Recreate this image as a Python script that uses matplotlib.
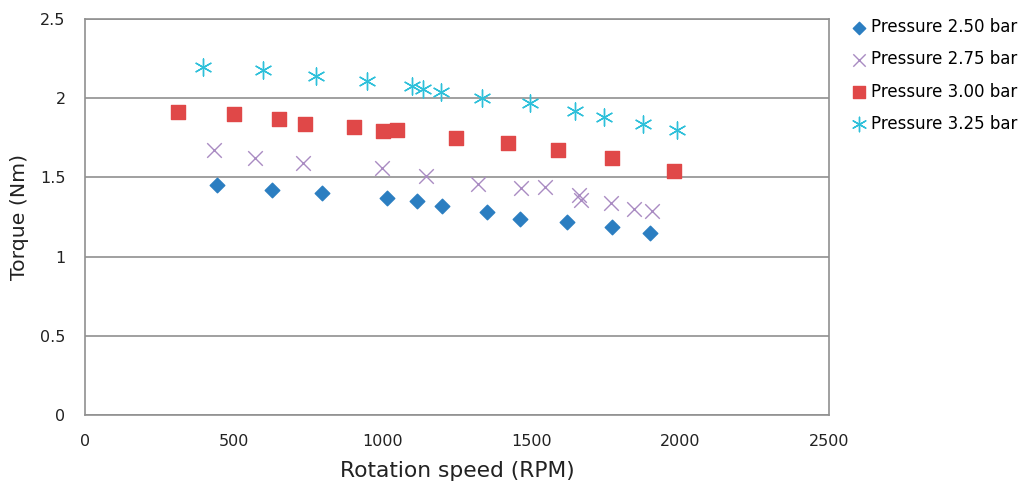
import numpy as np
import matplotlib
matplotlib.use('Agg')
import matplotlib.pyplot as plt

# data
rpm_250 = [445, 627, 798, 1016, 1114, 1198, 1350, 1461, 1619, 1770, 1900]
torque_250 = [1.45, 1.42, 1.40, 1.37, 1.35, 1.32, 1.28, 1.24, 1.22, 1.19, 1.15]

rpm_275 = [433, 571, 733, 999, 1146, 1322, 1466, 1546, 1661, 1668, 1768, 1845, 1906]
torque_275 = [1.67, 1.62, 1.59, 1.56, 1.51, 1.46, 1.43, 1.44, 1.39, 1.36, 1.34, 1.30, 1.29]

rpm_300 = [313, 501, 652, 740, 904, 1001, 1049, 1247, 1421, 1589, 1771, 1980]
torque_300 = [1.91, 1.90, 1.87, 1.84, 1.82, 1.79, 1.80, 1.75, 1.72, 1.67, 1.62, 1.54]

rpm_325 = [396, 598, 776, 947, 1099, 1136, 1196, 1334, 1495, 1647, 1744, 1875, 1989]
torque_325 = [2.20, 2.18, 2.14, 2.11, 2.08, 2.06, 2.04, 2.00, 1.97, 1.92, 1.88, 1.84, 1.80]

labels = ['Pressure 2.50 bar', 'Pressure 2.75 bar', 'Pressure 3.00 bar', 'Pressure 3.25 bar']

fig = plt.figure(figsize=(10.24, 4.93), dpi=100)
ax = fig.add_axes([85 / 1024, 78 / 493, 744 / 1024, 396 / 493])

ax.scatter(rpm_250, torque_250, marker='D', s=55, color='#2B7EC1', label=labels[0], zorder=3)
ax.scatter(rpm_275, torque_275, marker='x', s=110, color='#A98BC2', linewidths=1.0, label=labels[1], zorder=3)
ax.scatter(rpm_300, torque_300, marker='s', s=110, color='#E04848', label=labels[2], zorder=3)
ax.scatter(rpm_325, torque_325, marker=(6, 2, 0), s=150, color='#2EC0DA', linewidths=1.0, label=labels[3], zorder=3)

ax.set_xlim(0, 2500)
ax.set_ylim(0, 2.5)
ax.set_xticks(np.arange(0, 2501, 500))
ax.set_yticks(np.arange(0, 2.51, 0.5))
ax.set_yticklabels(['0', '0.5', '1', '1.5', '2', '2.5'])
ax.tick_params(length=0, labelsize=11.5, colors='#222222', pad=14)
ax.tick_params(axis='x', pad=14)
ax.yaxis.grid(True, color='#A0A0A0', linewidth=1.4)
ax.set_axisbelow(True)
for s in ax.spines.values():
    s.set_color('#909090')
    s.set_linewidth(1.2)

ax.set_xlabel('Rotation speed (RPM)', fontsize=15.7, color='#222222', labelpad=8)
ax.set_ylabel('Torque (Nm)', fontsize=14.7, color='#222222', labelpad=8)

leg = ax.legend(loc='upper left', bbox_to_anchor=(1.011, 1.027), frameon=False, fontsize=12,
                handletextpad=0.05, labelspacing=0.85, handlelength=1.4, borderaxespad=0.2,
                markerscale=0.85)

fig.savefig('out.png', dpi=100)
